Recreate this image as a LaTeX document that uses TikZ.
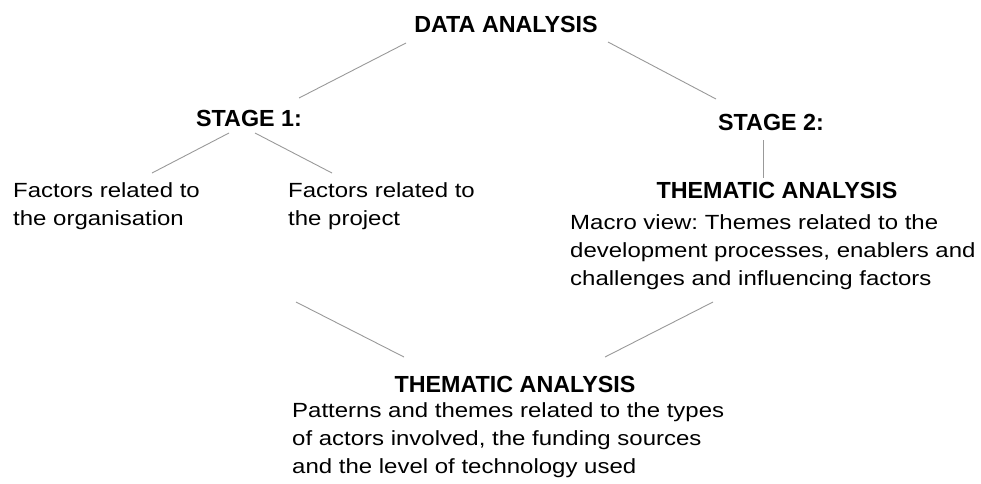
\documentclass[tikz,border=0pt]{standalone}
\usepackage{fontspec}
\setmainfont{Liberation Sans}
\newfontfamily\bodyfont{Liberation Sans}[FakeStretch=1.17]

\begin{document}
\begin{tikzpicture}[x=1pt, y=-1pt,
    head/.style={font=\bfseries\fontsize{23.3}{28}\selectfont, inner sep=0pt, anchor=base},
    body/.style={font=\bodyfont\fontsize{20.5}{28}\selectfont\frenchspacing, align=left, inner sep=0pt, anchor=base west},
    link/.style={draw=black!40, line width=0.9pt}]
  \useasboundingbox (0,0) rectangle (981,483);

  % headings
  \node[head] (data) at (506,32) {DATA ANALYSIS};
  \node[head] (stage1) at (249,126) {STAGE 1:};
  \node[head] (stage2) at (771,130) {STAGE 2:};
  \node[head] (thm1) at (777,198) {THEMATIC ANALYSIS};
  \node[head] (thm2) at (515,392) {THEMATIC ANALYSIS};

  % text blocks (placed at the baseline of their last line)
  \node[body] (org) at (13,225) {Factors related to\\the organisation};
  \node[body] (prj) at (288,225) {Factors related to\\the project};
  \node[body] (macro) at (570,285) {Macro view: Themes related to the\\development processes, enablers and\\challenges and influencing factors};
  \node[body] (pat) at (292,473) {Patterns and themes related to the types\\of actors involved, the funding sources\\and the level of technology used};

  % line ends
  \coordinate (data-l) at (406,43);
  \coordinate (data-r) at (608,42);
  \coordinate (stage1-in) at (299,98);
  \coordinate (stage2-in) at (716,99);
  \coordinate (stage1-l) at (229,133);
  \coordinate (stage1-r) at (255,133);
  \coordinate (org-in) at (152,173);
  \coordinate (prj-in) at (332,173);
  \coordinate (stage2-out) at (763,140);
  \coordinate (thm1-in) at (763,178);
  \coordinate (stage1-out) at (296,302);
  \coordinate (macro-out) at (713,302);
  \coordinate (thm2-l) at (404,357);
  \coordinate (thm2-r) at (605,357);

  \foreach \a/\b in {data-l/stage1-in, data-r/stage2-in, stage1-l/org-in, stage1-r/prj-in,
      stage2-out/thm1-in, stage1-out/thm2-l, macro-out/thm2-r}
    \draw[link] (\a) -- (\b);
\end{tikzpicture}
\end{document}
